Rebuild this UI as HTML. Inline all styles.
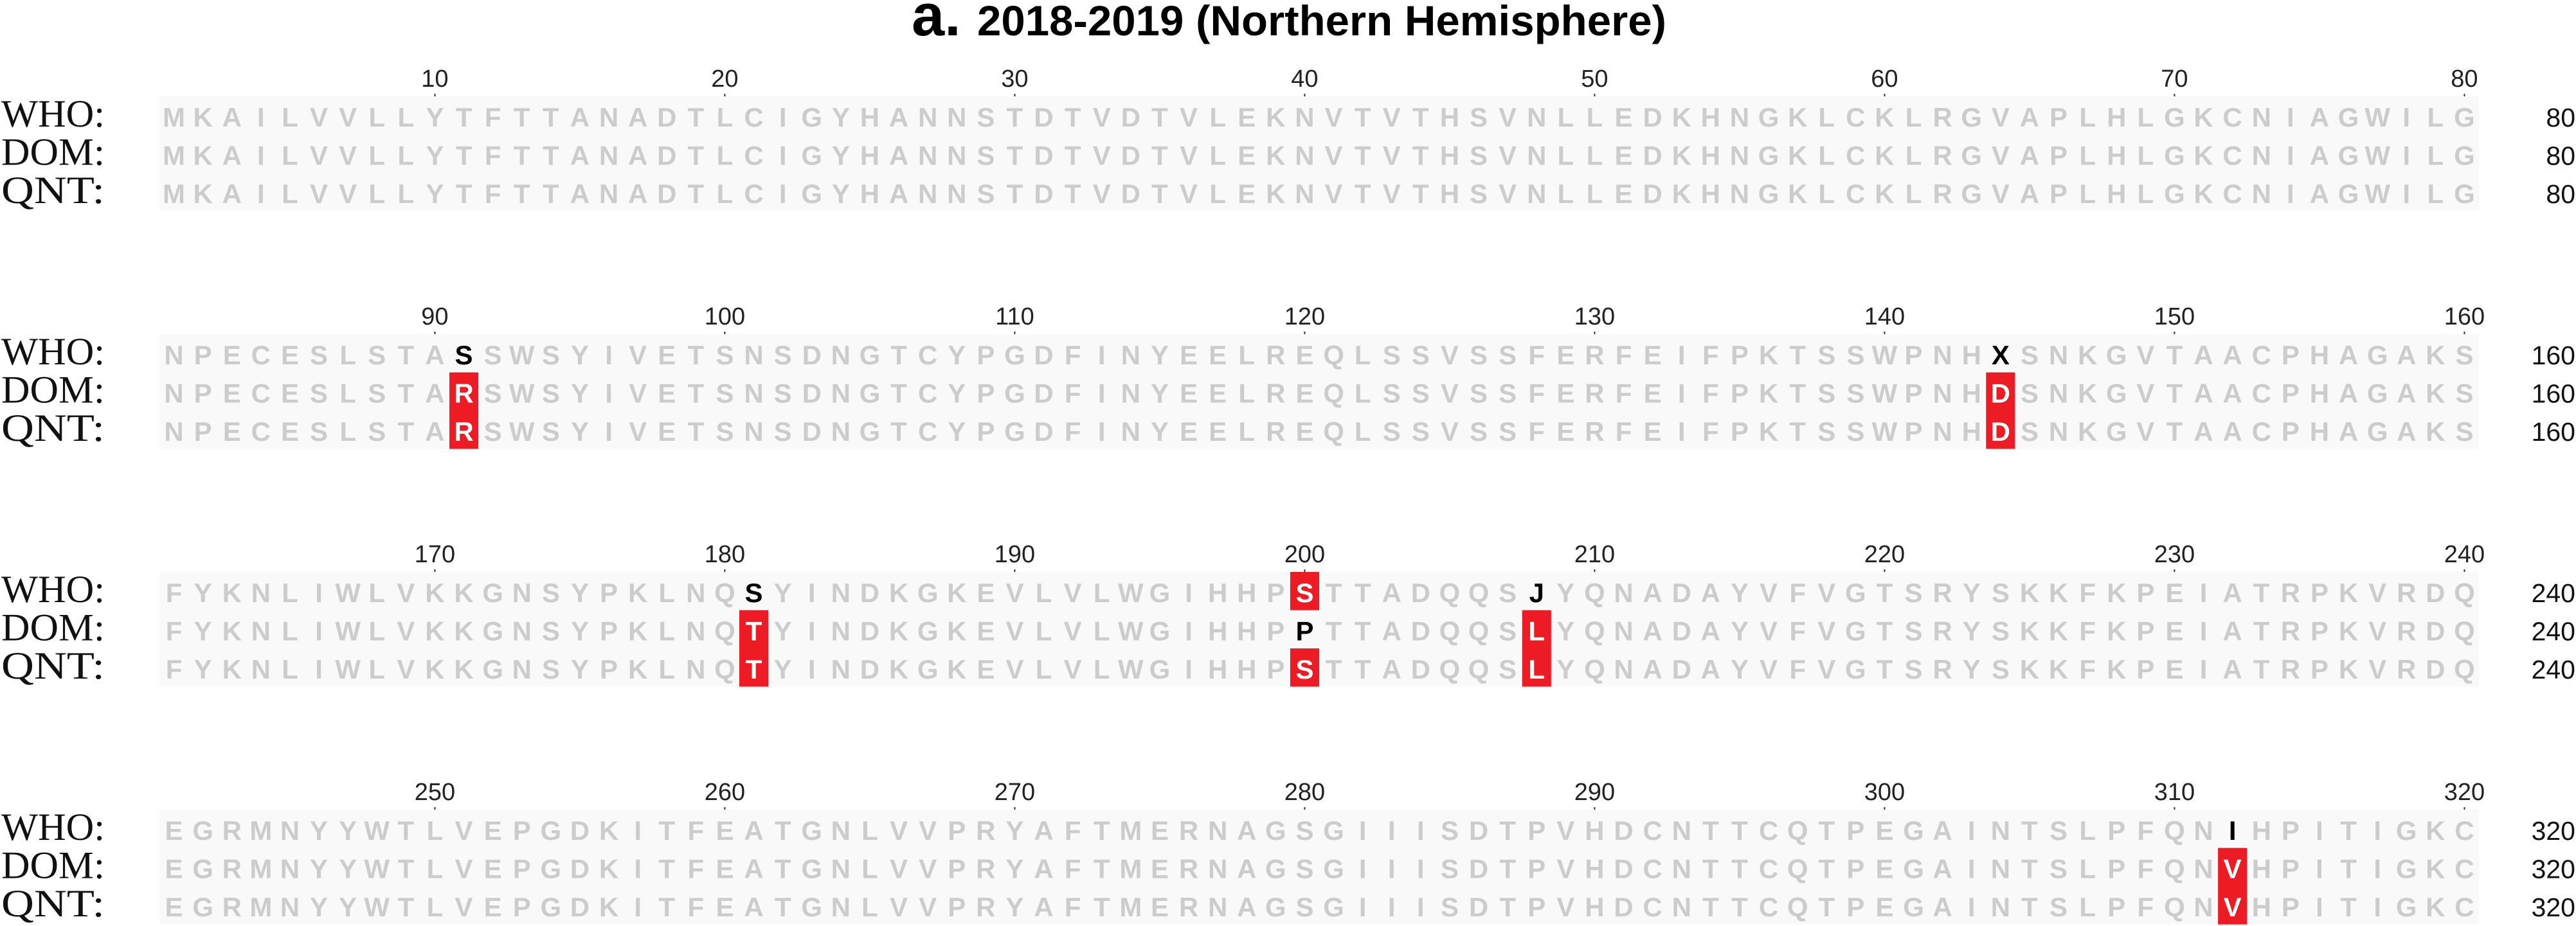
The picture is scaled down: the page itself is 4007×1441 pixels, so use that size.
<!DOCTYPE html>
<html><head><meta charset="utf-8"><style>
html,body{margin:0;padding:0;background:#fff;}
svg{display:block;}
text{font-family:"Liberation Sans",Arial,sans-serif;}
</style></head><body>
<svg id="fig" width="4007" height="1441" viewBox="0 0 4007 1441" xmlns="http://www.w3.org/2000/svg">
<text x="1418" y="55" font-size="92" font-weight="bold">a.</text>
<text x="1520" y="55" font-size="66" font-weight="bold" textLength="1072" lengthAdjust="spacingAndGlyphs">2018-2019 (Northern Hemisphere)</text>
<g id="blocks"></g>
</svg>
<script>
const seqNames = ["WHO:", "DOM:", "QNT:"];
const seqWHO = "MKAILVVLLYTFTTANADTLCIGYHANNSTDTVDTVLEKNVTVTHSVNLLEDKHNGKLCKLRGVAPLHLGKCNIAGWILG" +
  "NPECESLSTASSWSYIVETSNSDNGTCYPGDFINYEELREQLSSVSSFERFEIFPKTSSWPNHXSNKGVTAACPHAGAKS" +
  "FYKNLIWLVKKGNSYPKLNQSYINDKGKEVLVLWGIHHPSTTADQQSJYQNADAYVFVGTSRYSKKFKPEIATRPKVRDQ" +
  "EGRMNYYWTLVEPGDKITFEATGNLVVPRYAFTMERNAGSGIIISDTPVHDCNTTCQTPEGAINTSLPFQNIHPITIGKC";
const mutPositions = [91, 144, 181, 200, 208, 312];
const mutResidues = [["S","R","R"],["X","D","D"],["S","T","T"],["S","P","S"],["J","L","L"],["I","V","V"]];
const mutStyles = [["b","r","r"],["b","r","r"],["b","r","r"],["r","b","r"],["b","r","r"],["b","r","r"]];
const blockSize = 80;
const tickStep = 10;

const NS = "http://www.w3.org/2000/svg";
const g = document.getElementById("blocks");
const X0 = 248, PITCH = 45.1, TOP0 = 150, BLOCKSTEP = 370, ROWH = 59.5;
function xCenter(i){ return X0 + (i + 0.5) * PITCH; }
function blockTop(b){ return TOP0 + b * BLOCKSTEP; }
function mk(tag, attrs){ const e = document.createElementNS(NS, tag); for (const k in attrs) e.setAttribute(k, attrs[k]); return e; }

const nBlocks = Math.ceil(seqWHO.length / blockSize);
for (let b = 0; b < nBlocks; b++) {
  const T = blockTop(b);
  const blk = mk("g", {});
  
  
  g.appendChild(blk);
  const bg = mk("rect", {x: X0, y: T, width: blockSize * PITCH, height: ROWH * 3, fill: "#f9f9f9"});
  
  
  blk.appendChild(bg);
  for (let k = tickStep; k <= blockSize; k += tickStep) {
    const pos = b * blockSize + k;
    const t = mk("text", {x: xCenter(k - 1), y: T - 15, "font-size": 38, "text-anchor": "middle", fill: "#222"});
    t.textContent = pos;
    
    
    blk.appendChild(t);
    const tm = mk("line", {x1: xCenter(k - 1), x2: xCenter(k - 1), y1: T - 4, y2: T, stroke: "#333", "stroke-width": 2});
    
    
    blk.appendChild(tm);
  }
  for (let r = 0; r < 3; r++) {
    const base = T + 32 + r * ROWH + 15;
    const lab = mk("text", {x: 2, y: base, "font-size": 60, fill: "#111", textLength: 161, lengthAdjust: "spacingAndGlyphs", style: "font-family:'Liberation Serif','DejaVu Serif',serif"});
    lab.textContent = seqNames[r];
    
    
    blk.appendChild(lab);
    const endN = mk("text", {x: 4006, y: base, "font-size": 41, "text-anchor": "end", fill: "#111"});
    endN.textContent = Math.min((b + 1) * blockSize, seqWHO.length);
    
    
    blk.appendChild(endN);
    for (let i = 0; i < blockSize; i++) {
      const pos = b * blockSize + i + 1;
      if (pos > seqWHO.length) break;
      let ch = seqWHO[pos - 1], style = "n";
      const mi = mutPositions.indexOf(pos);
      if (mi >= 0) { ch = mutResidues[mi][r]; style = mutStyles[mi][r]; }
      if (style === "r") {
        const rc = mk("rect", {x: X0 + i * PITCH, y: T + r * ROWH, width: PITCH, height: ROWH, fill: "#ed1c24"});
        
        
        blk.appendChild(rc);
      }
      const t = mk("text", {x: xCenter(i), y: base, "font-size": 42, "font-weight": "bold", "text-anchor": "middle",
        fill: style === "r" ? "#fff" : (style === "b" ? "#000" : "#cccccc")});
      t.textContent = ch;
      
      
      blk.appendChild(t);
    }
  }
}
</script>
</body></html>
